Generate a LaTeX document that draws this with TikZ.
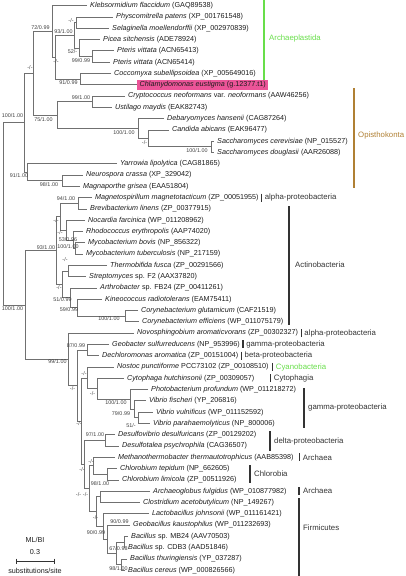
\documentclass[tikz,border=0pt]{standalone}
\usepackage{fontspec}
\setmainfont{Liberation Sans}
\usetikzlibrary{calc}
\definecolor{archgreen}{RGB}{104,222,74}
\definecolor{opibrown}{RGB}{176,128,52}
\definecolor{hlpink}{RGB}{236,84,152}
\definecolor{brgray}{RGB}{112,112,112}
\definecolor{txtdark}{RGB}{28,28,28}
\tikzset{
  br/.style={draw=brgray, line width=0.75pt},
  leaf/.style={anchor=west, inner sep=0pt, font=\fontsize{7.2}{8}\selectfont, text=txtdark},
  sup/.style={inner sep=0pt, font=\fontsize{5.4}{6}\selectfont, text=black!75},
  clade/.style={anchor=west, inner sep=0pt, font=\fontsize{7.8}{9}\selectfont, text=black!80},
  cbar/.style={draw=black!80, line width=1.5pt},
  scl/.style={inner sep=0pt, font=\fontsize{7.2}{8}\selectfont, text=txtdark}
}
\newcommand\Leaf[3]{%
  \coordinate (e#1) at ({#2-3},{5.7+(#1-1)*11.29});
  \node[leaf] (L#1) at (#2,{5.7+(#1-1)*11.29}) {#3};}
\newcommand\Int[3]{\draw[br] (#2) -- (#1 |- #2) -- (#1 |- #3) -- (#3);}
\begin{document}
\begin{tikzpicture}[x=1pt,y=-1pt]
\useasboundingbox (0,0) rectangle (406,576);
% leaves
\Leaf{1}{90}{\textit{Klebsormidium flaccidum} (GAQ89538)}
\Leaf{2}{116}{\textit{Physcomitrella patens} (XP\_001761548)}
\Leaf{3}{112}{\textit{Selaginella moellendorffii} (XP\_002970839)}
\Leaf{4}{103}{\textit{Picea sitchensis} (ADE78924)}
\Leaf{5}{117}{\textit{Pteris vittata} (ACN65413)}
\Leaf{6}{113}{\textit{Pteris vittata} (ACN65414)}
\Leaf{7}{114}{\textit{Coccomyxa subellipsoidea} (XP\_005649016)}
\coordinate (e8) at (137,{5.7+7*11.29});
\node[leaf, fill=hlpink, inner xsep=2.5pt, inner ysep=1.6pt] (L8) at (137,{5.7+7*11.29}) {\textit{Chlamydomonas eustigma} (g.12377.t1)};
\Leaf{9}{128}{\textit{Cryptococcus neoformans} var. \textit{neoformans} (AAW46256)}
\Leaf{10}{115}{\textit{Ustilago maydis} (EAK82743)}
\Leaf{11}{167}{\textit{Debaryomyces hansenii} (CAG87264)}
\Leaf{12}{172}{\textit{Candida abicans} (EAK96477)}
\Leaf{13}{217}{\textit{Saccharomyces cerevisiae} (NP\_015527)}
\Leaf{14}{217}{\textit{Saccharomyces douglasii} (AAR26088)}
\Leaf{15}{120}{\textit{Yarrowia lipolytica} (CAG81865)}
\Leaf{16}{86}{\textit{Neurospora crassa} (XP\_329042)}
\Leaf{17}{83}{\textit{Magnaporthe grisea} (EAA51804)}
\Leaf{18}{95}{\textit{Magnetospirillum magnetotacticum} (ZP\_00051955)}
\Leaf{19}{90}{\textit{Brevibacterium linens} (ZP\_00377915)}
\Leaf{20}{88}{\textit{Nocardia farcinica} (WP\_011208962)}
\Leaf{21}{86}{\textit{Rhodococcus erythropolis} (AAP74020)}
\Leaf{22}{88}{\textit{Mycobacterium bovis} (NP\_856322)}
\Leaf{23}{86}{\textit{Mycobacterium tuberculosis} (NP\_217159)}
\Leaf{24}{110}{\textit{Thermobifida fusca} (ZP\_00291566)}
\Leaf{25}{89}{\textit{Streptomyces} sp. F2 (AAX37820)}
\Leaf{26}{100}{\textit{Arthrobacter} sp. FB24 (ZP\_00411261)}
\Leaf{27}{105}{\textit{Kineococcus radiotolerans} (EAM75411)}
\Leaf{28}{141}{\textit{Corynebacterium glutamicum} (CAF21519)}
\Leaf{29}{142}{\textit{Corynebacterium efficiens} (WP\_011075179)}
\Leaf{30}{137}{\textit{Novosphingobium aromaticvorans} (ZP\_00302327)}
\Leaf{31}{112}{\textit{Geobacter sulfurreducens} (NP\_953996)}
\Leaf{32}{102}{\textit{Dechloromonas aromatica} (ZP\_00151004)}
\Leaf{33}{117}{\textit{Nostoc punctiforme} PCC73102 (ZP\_00108510)}
\Leaf{34}{127}{\textit{Cytophaga hutchinsonii} (ZP\_00309057)}
\Leaf{35}{151}{\textit{Photobacterium profundum} (WP\_011218272)}
\Leaf{36}{149}{\textit{Vibrio fischeri} (YP\_206816)}
\Leaf{37}{156}{\textit{Vibrio vulnificus} (WP\_011152592)}
\Leaf{38}{153}{\textit{Vibrio parahaemolyticus} (NP\_800006)}
\Leaf{39}{118}{\textit{Desulfovibrio desulfuricans} (ZP\_00129202)}
\Leaf{40}{122}{\textit{Desulfotalea psychrophila} (CAG36507)}
\Leaf{41}{118}{\textit{Methanothermobacter thermautotrophicus} (AAB85398)}
\Leaf{42}{120}{\textit{Chlorobium tepidum} (NP\_662605)}
\Leaf{43}{122}{\textit{Chlorobium limicola} (ZP\_00511926)}
\Leaf{44}{153}{\textit{Archaeoglobus fulgidus} (WP\_010877982)}
\Leaf{45}{143}{\textit{Clostridium acetobutylicum} (NP\_149267)}
\Leaf{46}{152}{\textit{Lactobacillus johnsonii} (WP\_011161421)}
\Leaf{47}{133}{\textit{Geobacillus kaustophilus} (WP\_011232693)}
\Leaf{48}{131}{\textit{Bacillus} sp. MB24 (AAV70503)}
\Leaf{49}{128}{\textit{Bacillus} sp. CDB3 (AAD51846)}
\Leaf{50}{130}{\textit{Bacillus thuringiensis} (YP\_037287)}
\Leaf{51}{128}{\textit{Bacillus cereus} (WP\_000826566)}
% internal nodes
\coordinate (nPS) at (76,22.64);
\coordinate (nPT) at (92,56.51);
\coordinate (nPPT) at (79,48.04);
\coordinate (n93) at (74,35.34);
\coordinate (nCC) at (80,79.09);
\coordinate (nX) at (55,57.21);
\coordinate (nP) at (52,31.46);
\coordinate (nB99) at (92,101.67);
\coordinate (nSC) at (211,146.83);
\coordinate (nCS) at (148,138.36);
\coordinate (nDS) at (138,128.48);
\coordinate (nF) at (57,115.08);
\coordinate (nQ) at (33,73.27);
\coordinate (nN98) at (62,180.70);
\coordinate (nN91) at (27,172.23);
\coordinate (nE) at (24,122.75);
\coordinate (nM94) at (78,203.28);
\coordinate (nMY) at (75,248.44);
\coordinate (nRM) at (73,239.97);
\coordinate (nN) at (66,230.09);
\coordinate (nK1) at (60,216.69);
\coordinate (nTS) at (68,271.02);
\coordinate (nCO) at (125,316.18);
\coordinate (nA59) at (77,307.71);
\coordinate (nA51) at (70,297.83);
\coordinate (nT) at (62,284.43);
\coordinate (nACT) at (56,250.56);
\coordinate (nGD) at (87,350.05);
\coordinate (nVP) at (138,417.79);
\coordinate (nFV) at (134,409.32);
\coordinate (nPV) at (130,399.44);
\coordinate (nCPV) at (97,388.86);
\coordinate (nNCP) at (87,377.92);
\coordinate (nDD) at (105,440.37);
\coordinate (nCL) at (107,474.24);
\coordinate (nM1) at (93,465.77);
\coordinate (nAC) at (100,496.82);
\coordinate (nTC) at (121,564.56);
\coordinate (nMC) at (124,541.98);
\coordinate (nBA2) at (116,553.27);
\coordinate (nGB) at (107,539.16);
\coordinate (nFIRM) at (103,526.46);
\coordinate (nR5) at (96,511.64);
\coordinate (nR4) at (89,488.71);
\coordinate (nR3) at (84,464.54);
\coordinate (nR2) at (81,421.23);
\coordinate (nR1) at (77,385.64);
\coordinate (nB99b) at (68,359.38);
\coordinate (nBAC) at (25,304.97);
\coordinate (nRoot) at (3,213.86);
% branches
\Int{nPS}{e2}{e3}
\Int{nPT}{e5}{e6}
\Int{nPPT}{e4}{nPT}
\Int{n93}{nPS}{nPPT}
\Int{nCC}{e7}{e8}
\Int{nX}{n93}{nCC}
\Int{nP}{e1}{nX}
\Int{nB99}{e9}{e10}
\Int{nSC}{e13}{e14}
\Int{nCS}{e12}{nSC}
\Int{nDS}{e11}{nCS}
\Int{nF}{nB99}{nDS}
\Int{nQ}{nP}{nF}
\Int{nN98}{e16}{e17}
\Int{nN91}{e15}{nN98}
\Int{nE}{nQ}{nN91}
\Int{nM94}{e18}{e19}
\Int{nMY}{e22}{e23}
\Int{nRM}{e21}{nMY}
\Int{nN}{e20}{nRM}
\Int{nK1}{nM94}{nN}
\Int{nTS}{e24}{e25}
\Int{nCO}{e28}{e29}
\Int{nA59}{e27}{nCO}
\Int{nA51}{e26}{nA59}
\Int{nT}{nTS}{nA51}
\Int{nACT}{nK1}{nT}
\Int{nGD}{e31}{e32}
\Int{nVP}{e37}{e38}
\Int{nFV}{e36}{nVP}
\Int{nPV}{e35}{nFV}
\Int{nCPV}{e34}{nPV}
\Int{nNCP}{e33}{nCPV}
\Int{nDD}{e39}{e40}
\Int{nCL}{e42}{e43}
\Int{nM1}{e41}{nCL}
\Int{nAC}{e44}{e45}
\Int{nTC}{e50}{e51}
\Int{nMC}{e48}{e49}
\Int{nBA2}{nMC}{nTC}
\Int{nGB}{e47}{nBA2}
\Int{nFIRM}{e46}{nGB}
\Int{nR5}{nAC}{nFIRM}
\Int{nR4}{nM1}{nR5}
\Int{nR3}{nDD}{nR4}
\Int{nR2}{nNCP}{nR3}
\Int{nR1}{nGD}{nR2}
\Int{nB99b}{e30}{nR1}
\Int{nBAC}{nACT}{nB99b}
\Int{nRoot}{nE}{nBAC}
% support values
\node[sup] (s01) at (40.5,28) {72/0.99};
\node[sup] (s02) at (71,21) {-/-};
\node[sup] (s03) at (63.5,32) {93/1.00};
\node[sup] (s04) at (72.5,52) {52/-};
\node[sup] (s05) at (81,61) {99/0.99};
\node[sup] (s06) at (56,62) {-/-};
\node[sup] (s07) at (68.5,83) {91/0.99};
\node[sup] (s08) at (30,68) {-/-};
\node[sup] (s09) at (81,98) {99/1.00};
\node[sup] (s10) at (43.5,120) {75/1.00};
\node[sup] (s11) at (124,133) {100/1.00};
\node[sup] (s12) at (144.5,143) {-/-};
\node[sup] (s13) at (197,151) {100/1.00};
\node[sup] (s14) at (12.5,116) {100/1.00};
\node[sup] (s15) at (19,176) {91/1.00};
\node[sup] (s16) at (49,185) {98/1.00};
\node[sup] (s17) at (66,199) {94/1.00};
\node[sup] (s18) at (56,221) {-/-};
\node[sup] (s19) at (60,232.5) {-/-};
\node[sup] (s20) at (68,239.5) {53/0.96};
\node[sup] (s21) at (68,246.5) {100/1.00};
\node[sup] (s22) at (65,260) {-/-};
\node[sup] (s23) at (59,288) {-/-};
\node[sup] (s24) at (62.5,300) {51/0.99};
\node[sup] (s25) at (69,310) {59/0.99};
\node[sup] (s26) at (109,319) {100/1.00};
\node[sup] (s27) at (46,248) {93/1.00};
\node[sup] (s28) at (12.5,309) {100/1.00};
\node[sup] (s29) at (57.5,362) {99/1.00};
\node[sup] (s30) at (76,346) {87/0.99};
\node[sup] (s31) at (72.5,389) {-/-};
\node[sup] (s32) at (84,374) {-/-};
\node[sup] (s33) at (92.5,394) {-/-};
\node[sup] (s34) at (116,403) {100/1.00};
\node[sup] (s35) at (121,414) {79/0.99};
\node[sup] (s36) at (131,426) {51/-};
\node[sup] (s37) at (79,424) {-/-};
\node[sup] (s38) at (95,435) {97/1.00};
\node[sup] (s39) at (91,462) {-/-};
\node[sup] (s40) at (82,470) {-/-};
\node[sup] (s41) at (100,484) {98/1.00};
\node[sup] (s42) at (85.5,495) {-/-};
\node[sup] (s43) at (78.5,495) {-/-};
\node[sup] (s44) at (95.5,518) {-/-};
\node[sup] (s45) at (96,533) {90/0.99};
\node[sup] (s46) at (119.5,522) {90/0.99};
\node[sup] (s47) at (118.5,549) {67/0.98};
\node[sup] (s48) at (118.5,569) {98/1.00};
% clade bars and names
\draw[draw=archgreen, line width=1.3pt] (264,0) -- (264,80);
\node[clade, text=archgreen] (cArch) at (269,38) {Archaeplastida};
\draw[draw=opibrown, line width=1.3pt] (354,88) -- (354,188);
\node[clade, text=opibrown] (cOpi) at (358,135) {Opisthokonta};
\draw[cbar] ($(L18.east)+(3,-4)$) -- ($(L18.east)+(3,4)$);
\node[clade] (cAl1) at ($(L18.east)+(6,0)$) {alpha-proteobacteria};
\draw[cbar] (289,206) -- (289,325);
\node[clade] (cAct) at (295,265) {Actinobacteria};
\draw[cbar] ($(L30.east)+(3,-4)$) -- ($(L30.east)+(3,4)$);
\node[clade] (cAl2) at ($(L30.east)+(6,0)$) {alpha-proteobacteria};
\draw[cbar] ($(L31.east)+(3,-4)$) -- ($(L31.east)+(3,4)$);
\node[clade] (cGa1) at ($(L31.east)+(6,0)$) {gamma-proteobacteria};
\draw[cbar] ($(L32.east)+(3,-4)$) -- ($(L32.east)+(3,4)$);
\node[clade] (cBe) at ($(L32.east)+(6,0)$) {beta-proteobacteria};
\draw[cbar] ($(L33.east)+(4,-4)$) -- ($(L33.east)+(4,4)$);
\node[clade, text=archgreen] (cCy) at ($(L33.east)+(7,0)$) {Cyanobacteria};
\path ($(L33.east)+(2,0)$) coordinate (cyx);
\draw[cbar] ($(cyx |- L34)+(0,-4)$) -- ($(cyx |- L34)+(0,4)$);
\node[clade] (cCyt) at ($(cyx |- L34)+(3,0)$) {Cytophagia};
\draw[cbar] (304,388) -- (304,428);
\node[clade] (cGa2) at (308,407) {gamma-proteobacteria};
\draw[cbar] (270,431) -- (270,451);
\node[clade] (cDe) at (274,441) {delta-proteobacteria};
\draw[cbar] ($(L41.east)+(6,-4)$) -- ($(L41.east)+(6,4)$);
\node[clade] (cAr1) at ($(L41.east)+(9,0)$) {Archaea};
\draw[cbar] (250,465) -- (250,483);
\node[clade] (cChl) at (254,474) {Chlorobia};
\draw[cbar] (299,487) -- (299,495);
\node[clade] (cAr2) at (303,491) {Archaea};
\draw[cbar] (299,498) -- (299,576);
\node[clade] (cFir) at (303,528) {Firmicutes};
% scale bar
\node[scl] (mlbi) at (35,540) {ML/BI};
\node[scl] (s0p3) at (35,552) {0.3};
\coordinate (sbL) at (16,561);
\coordinate (sbR) at (54,561);
\draw[black!80, line width=0.6pt] (sbL) -- (sbR);
\draw[black!80, line width=0.6pt] ($(sbL)+(0,-2.5)$) -- ($(sbL)+(0,2.5)$);
\draw[black!80, line width=0.6pt] ($(sbR)+(0,-2.5)$) -- ($(sbR)+(0,2.5)$);
\node[scl] (subs) at (35,571) {substitutions/site};
\end{tikzpicture}
\end{document}
